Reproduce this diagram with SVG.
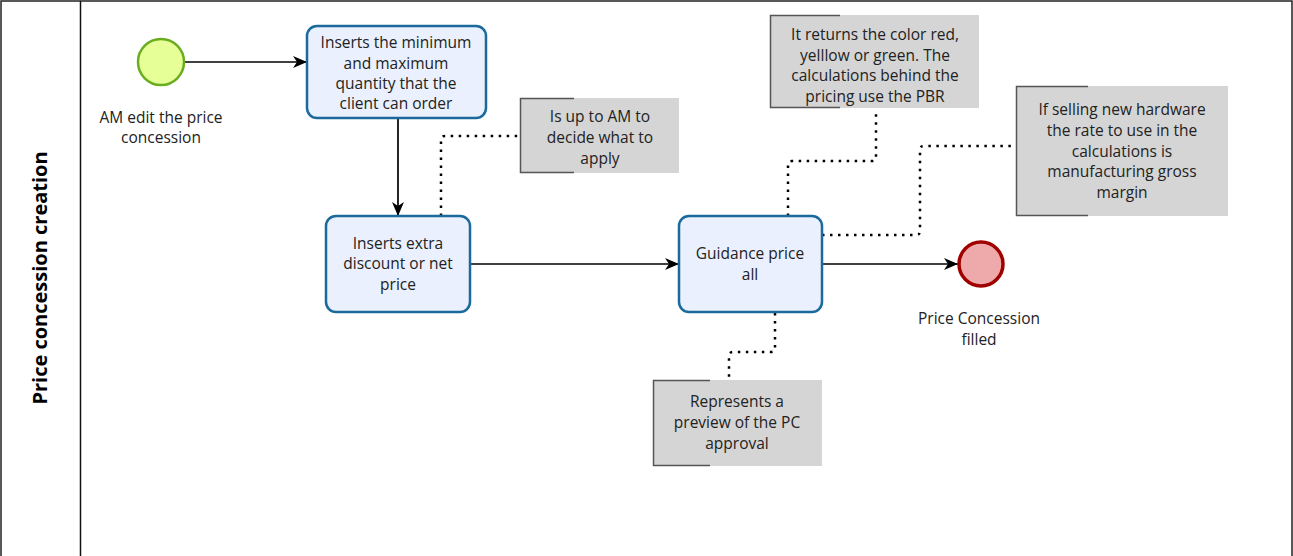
<svg xmlns="http://www.w3.org/2000/svg" width="1293" height="556" viewBox="0 0 1293 556">
<style>
text{font-family:"Open Sans","Noto Sans","Liberation Sans",sans-serif;font-size:15.5px;fill:#222;text-anchor:middle}
.task{fill:#eaf0fd;stroke:#1a6a9b;stroke-width:2.5}
.ann{fill:#d5d5d5}
.brk{fill:none;stroke:#555;stroke-width:1.5}
.flow{fill:none;stroke:#000;stroke-width:1.7}
.assoc{fill:none;stroke:#000;stroke-width:2.5;stroke-dasharray:2.5 5.5}
</style>
<defs>
<marker id="arr" viewBox="0 0 14 12" refX="14" refY="6" markerWidth="14" markerHeight="12" markerUnits="userSpaceOnUse" orient="auto">
<path d="M0,0 L14,6 L0,12 L4,6 Z" fill="#000"/>
</marker>
</defs>
<rect x="0" y="0" width="1293" height="556" fill="#fff"/>
<g id="pool">
<path d="M1,556 V1 H1292 V556" fill="none" stroke="#222" stroke-width="1.5"/>
<line x1="80.5" y1="1" x2="80.5" y2="556" stroke="#111" stroke-width="1.5"/>
<text transform="translate(47,278) rotate(-90)" style="font-size:20px;font-weight:bold;fill:#000">Price concession creation</text>
</g>
<g id="connectors">
<path class="flow" d="M185,62 H307" marker-end="url(#arr)"/>
<path class="flow" d="M398,118 V216" marker-end="url(#arr)"/>
<path class="flow" d="M470,264 H679" marker-end="url(#arr)"/>
<path class="flow" d="M822,264 H958" marker-end="url(#arr)"/>
<path class="assoc" d="M441,216 V140 Q441,136 445,136 H520"/>
<path class="assoc" d="M788,216 V165 Q788,161 792,161 H872 Q876,161 876,157 V113"/>
<path class="assoc" d="M822,235 H916 Q920,235 920,231 V150 Q920,146 924,146 H1016"/>
<path class="assoc" d="M775,313 V348 Q775,352 771,352 H733 Q729,352 729,356 V380"/>
</g>
<g id="start">
<circle cx="161" cy="62" r="23" fill="#e6ff97" stroke="#6aad1f" stroke-width="2.5"/>
<text x="161" y="123">AM edit the price</text>
<text x="161" y="143">concession</text>
</g>
<g id="task1">
<rect class="task" x="307" y="26" width="179" height="92" rx="10"/>
<text x="396" y="48">Inserts the minimum</text>
<text x="396" y="69">and maximum</text>
<text x="396" y="89">quantity that the</text>
<text x="396" y="109">client can order</text>
</g>
<g id="task2">
<rect class="task" x="326" y="216" width="144" height="96" rx="10"/>
<text x="398" y="249">Inserts extra</text>
<text x="398" y="269">discount or net</text>
<text x="398" y="290">price</text>
</g>
<g id="task3">
<rect class="task" x="679" y="216" width="143" height="96" rx="10"/>
<text x="750" y="259">Guidance price</text>
<text x="750" y="280">all</text>
</g>
<g id="end">
<circle cx="981" cy="264" r="22" fill="#eeaaaa" stroke="#a00000" stroke-width="3.5"/>
<text x="979" y="324">Price Concession</text>
<text x="979" y="345">filled</text>
</g>
<g id="note1">
<rect class="ann" x="520" y="98" width="159" height="75"/>
<path class="brk" d="M574,98.5 H520.5 V172.5 H574"/>
<text x="600" y="122">Is up to AM to</text>
<text x="600" y="143">decide what to</text>
<text x="600" y="164">apply</text>
</g>
<g id="note2">
<rect class="ann" x="770" y="15" width="209" height="93"/>
<path class="brk" d="M840,15.5 H770.5 V107.5 H840"/>
<text x="875" y="40">It returns the color red,</text>
<text x="875" y="61">yelllow or green. The</text>
<text x="875" y="81">calculations behind the</text>
<text x="875" y="102">pricing use the PBR</text>
</g>
<g id="note3">
<rect class="ann" x="1016" y="86" width="212" height="130"/>
<path class="brk" d="M1088,86.5 H1016.5 V215.5 H1088"/>
<text x="1122" y="115">If selling new hardware</text>
<text x="1122" y="136">the rate to use in the</text>
<text x="1122" y="157">calculations is</text>
<text x="1122" y="177">manufacturing gross</text>
<text x="1122" y="198">margin</text>
</g>
<g id="note4">
<rect class="ann" x="653" y="380" width="169" height="86"/>
<path class="brk" d="M710,380.5 H653.5 V465.5 H710"/>
<text x="737" y="407">Represents a</text>
<text x="737" y="428">preview of the PC</text>
<text x="737" y="449">approval</text>
</g>
</svg>
